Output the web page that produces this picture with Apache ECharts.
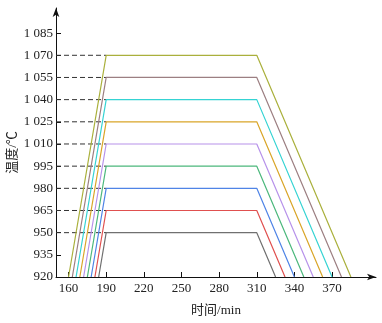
<!DOCTYPE html>
<html><head><meta charset="utf-8">
<script src="https://cdn.jsdelivr.net/npm/echarts@6/dist/echarts.min.js"></script>
<style>html,body{margin:0;padding:0;background:#fff}#c{width:382px;height:323px}</style>
</head><body><div id="c"></div>
<script>
const levels = [950, 965, 980, 995, 1010, 1025, 1040, 1055, 1070];
const heatStart = [184, 181, 178, 175, 172, 169, 166, 163, 160];
const holdStart = [190, 190, 190, 190, 190, 190, 190, 190, 190];
const holdEnd = [310, 310, 310, 310, 310, 310, 310, 310, 310];
const coolEnd = [325, 332.5, 340, 347.5, 355, 362.5, 370, 377.5, 385];
const baseTemp = 920;
const xTicks = [160, 190, 220, 250, 280, 310, 340, 370];
const yTicks = [920, 935, 950, 965, 980, 995, 1010, 1025, 1040, 1055, 1070, 1085];
const colors = ['#707070', '#e0504f', '#4f84e6', '#4cb87c', '#b792ea', '#d9a528', '#35d3d3', '#9c7f82', '#aab03c'];

const font = '"Liberation Serif", "Times New Roman", serif';
const cjk = '"Liberation Serif", "Noto Sans CJK SC", serif';

const series = [];
levels.forEach((lv, i) => {
  series.push({
    type: 'line', symbol: 'none', animation: false,
    lineStyle: { color: '#333', width: 1, type: [5, 3] },
    data: [[150, lv], [holdStart[i], lv]], z: 1
  });
});
levels.forEach((lv, i) => {
  series.push({
    type: 'line', symbol: 'none', animation: false,
    lineStyle: { color: colors[i], width: 1.2 },
    data: [[heatStart[i], baseTemp], [holdStart[i], lv], [holdEnd[i], lv], [coolEnd[i], baseTemp]], z: 2
  });
});

const chart = echarts.init(document.getElementById('c'));
chart.setOption({
  animation: false,
  grid: { left: 56, right: 6, top: 8, bottom: 46, containLabel: false, outerBoundsMode: 'none' },
  xAxis: {
    type: 'value', min: 150, max: 405,
    name: '时间/min', nameLocation: 'middle', nameGap: 27, nameMoveOverlap: false,
    nameTextStyle: { fontFamily: cjk, fontSize: 13, color: '#222' },
    axisLine: { lineStyle: { color: '#111', width: 1 }, symbol: ['none', 'arrow'], symbolSize: [5, 9] },
    axisTick: { inside: true, length: 5, customValues: xTicks, lineStyle: { color: '#111' } },
    axisLabel: { customValues: xTicks, fontFamily: font, fontSize: 13, color: '#222', margin: 5 },
    splitLine: { show: false }
  },
  yAxis: {
    type: 'value', min: 920, max: 1102,
    name: '温度/℃', nameLocation: 'middle', nameGap: 37, nameRotate: 90, nameMoveOverlap: false,
    nameTextStyle: { fontFamily: cjk, fontSize: 13, color: '#222', padding: [0, 20, 0, 0] },
    axisLine: { show: true, lineStyle: { color: '#111', width: 1 }, symbol: ['none', 'arrow'], symbolSize: [5, 9] },
    axisTick: { show: true, inside: true, length: 5, customValues: yTicks, lineStyle: { color: '#111' } },
    axisLabel: {
      customValues: yTicks, fontFamily: font, fontSize: 13, color: '#222', margin: 3,
      formatter: v => v >= 1000 ? Math.floor(v / 1000) + ' ' + String(v % 1000).padStart(3, '0') : String(v)
    },
    splitLine: { show: false }
  },
  series: series
});
</script></body></html>
